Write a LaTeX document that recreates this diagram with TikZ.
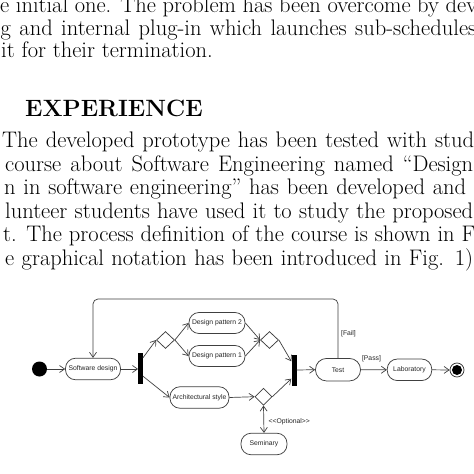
\documentclass[tikz,border=0pt]{standalone}
\usepackage{fontspec}
\newfontfamily\dfont{Liberation Sans}
\usetikzlibrary{arrows.meta,shapes.geometric}
\begin{document}
\begin{tikzpicture}[x=1pt,y=-1pt,
 act/.style={draw=black!75, line width=0.75pt, rounded corners=10pt, inner sep=0pt, minimum height=21.5pt, font=\dfont\fontsize{6.8}{8}\selectfont, text=black!85},
 dec/.style={diamond, draw=black!75, line width=0.75pt, inner sep=0pt, minimum width=18pt, minimum height=17pt},
 bar/.style={fill=black, inner sep=0pt, minimum width=4.5pt, minimum height=31pt},
 arr/.style={draw=black!75, line width=0.7pt, -{Straight Barb[length=5pt,width=7pt]}},
 lbl/.style={font=\dfont\fontsize{6.8}{8}\selectfont, inner sep=0pt, text=black!85},
 body/.style={anchor=base west, inner sep=0pt, font=\fontsize{22.5}{23.5}\selectfont}]
\fill[white] (0,0) rectangle (474,474);
\useasboundingbox (0,0) rectangle (474,474);

% text
\node[body] (t1) at (0,12.5) {\makebox[477pt][s]{e initial one. The problem has been overcome by dev}};
\node[body] (t2) at (0.5,35) {\makebox[475.5pt][s]{g and internal plug-in which launches sub-schedules}};
\node[body] (t3) at (1,57.5) {it for their termination.};
\node[body, font=\fontsize{23.6}{27}\selectfont\bfseries] (h) at (25,116) {EXPERIENCE};
\node[body] (t5) at (2,147.5) {\makebox[472pt][s]{The developed prototype has been tested with stud}};
\node[body] (t6) at (5,171) {\makebox[468pt][s]{course about Software Engineering named “Design}};
\node[body] (t7) at (4,194.5) {\makebox[462pt][s]{n in software engineering” has been developed and}};
\node[body] (t8) at (5,218) {\makebox[468pt][s]{lunteer students have used it to study the proposed}};
\node[body] (t9) at (3,241.5) {\makebox[472pt][s]{t. The process definition of the course is shown in F}};
\node[body] (t10) at (5,265) {\makebox[468pt][s]{e graphical notation has been introduced in Fig. 1)}};

% diagram nodes
\node[circle, fill=black, minimum size=15pt, inner sep=0pt] (init) at (39.5,369) {};
\node[act, minimum width=55pt] (sd) at (93,369) {Software design};
\node[bar] (fork1) at (140.5,368.5) {};
\node[dec] (d1) at (165.5,340) {};
\node[act, minimum width=56pt, minimum height=21pt] (dp2) at (217,323) {Design pattern 2};
\node[act, minimum width=56pt, minimum height=21pt] (dp1) at (217,356) {Design pattern 1};
\node[dec] (d2) at (269.5,340) {};
\node[act, minimum width=59pt] (as) at (199.5,397.5) {Architectural style};
\node[dec, minimum width=17pt] (d3) at (263.5,396.7) {};
\node[act, minimum width=46pt] (sem) at (264,444) {Seminary};
\node[bar, minimum width=5pt] (fork2) at (294,370) {};
\node[act, minimum width=45pt, minimum height=22.5pt, rounded corners=11pt] (test) at (338,369.7) {Test};
\node[act, minimum width=44.5pt] (lab) at (409.5,369.8) {Laboratory};
\node[circle, draw=black!80, line width=0.75pt, minimum size=14pt, inner sep=0pt] (fin) at (457,370) {};
\node[circle, fill=black, minimum size=10pt, inner sep=0pt] (fincore) at (fin.center) {};

% labels
\node[lbl] (fail) at (348.5,334) {[Fail]};
\node[lbl] (pass) at (371.5,359) {[Pass]};
\node[lbl] (opt) at (289.2,421.7) {<\kern0pt<Optional>\kern0pt>};

% connectors
\coordinate (looptop) at (0,299);
\draw[arr] (init) -- (sd.west);
\draw[arr] (sd.east) -- (sd.east -| fork1.west);
\draw[arr] ([yshift=-5pt]fork1.north east) -- (d1.west);
\draw[arr] (d1.east) -- (dp2.west);
\draw[arr] (d1.east) -- (dp1.west);
\draw[arr] (dp2.east) -- (d2.west);
\draw[arr] (dp1.east) -- (d2.west);
\draw[arr] (d2.east) -- ([yshift=-7pt]fork2.north west);
\draw[arr] ([yshift=8pt]fork1.south east) -- (as.west);
\draw[arr] (as.east) -- (d3.west);
\draw[arr] (d3.east) -- ([yshift=7pt]fork2.south west);
\draw[arr, {Straight Barb[length=5pt,width=7pt]}-{Straight Barb[length=5pt,width=7pt]}] (d3.south) -- (sem.north);
\draw[arr] (fork2.east) -- (test.west);
\draw[arr] (test.east) -- (lab.west);
\draw[arr] (lab.east) -- (fin.west);
\draw[arr, rounded corners=5pt] (test.north) -- (test.north |- looptop) -- (sd.north |- looptop) -- (sd.north);
\end{tikzpicture}
\end{document}
